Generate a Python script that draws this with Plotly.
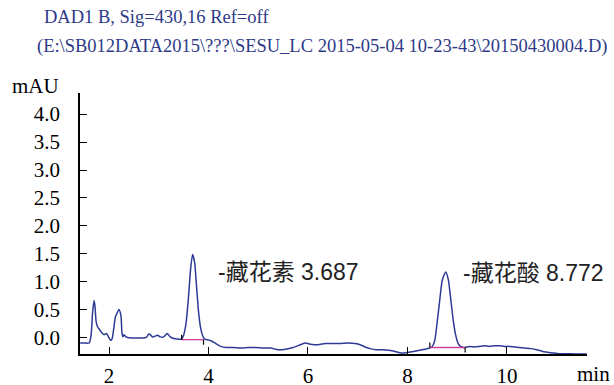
import plotly.graph_objects as go

# Chromatogram points (time in min, signal in mAU)
time_min = [1.42, 1.50, 1.60, 1.64, 1.67, 1.70, 1.72, 1.74, 1.77, 1.80, 1.85, 1.90, 1.95, 1.99, 2.03, 2.06,
            2.10, 2.13, 2.16, 2.20, 2.24, 2.26, 2.28, 2.30, 2.33, 2.37, 2.45, 2.55, 2.65, 2.75, 2.80, 2.83,
            2.87, 2.92, 2.98, 3.03, 3.10, 3.17, 3.23, 3.30, 3.38, 3.46, 3.50, 3.55, 3.60, 3.64, 3.68, 3.72,
            3.76, 3.80, 3.84, 3.88, 3.92, 3.97, 4.05, 4.15, 4.25, 4.35, 4.50, 4.65, 4.80, 4.95, 5.10, 5.25,
            5.40, 5.55, 5.70, 5.85, 5.95, 6.05, 6.20, 6.35, 6.50, 6.65, 6.80, 6.95, 7.05, 7.15, 7.25, 7.38,
            7.50, 7.62, 7.75, 7.87, 8.00, 8.12, 8.25, 8.35, 8.45, 8.50, 8.55, 8.60, 8.65, 8.70, 8.77, 8.82,
            8.87, 8.92, 8.97, 9.02, 9.07, 9.12, 9.16, 9.25, 9.35, 9.45, 9.55, 9.65, 9.75, 9.85, 9.95, 10.05,
            10.15, 10.25, 10.35, 10.48, 10.60, 10.72, 10.85, 10.95, 11.05, 11.20, 11.35, 11.50, 11.60]
signal_mau = [-0.09, -0.09, -0.09, 0.05, 0.45, 0.67, 0.55, 0.30, 0.20, 0.16, 0.10, 0.06, 0.08, 0.02, -0.04, -0.02,
              0.20, 0.38, 0.44, 0.51, 0.40, 0.10, 0.02, 0.06, 0.03, 0.01, 0.00, 0.00, 0.00, 0.01, 0.07, 0.06,
              0.02, 0.03, 0.05, 0.02, 0.02, 0.08, 0.02, -0.01, -0.02, -0.02, 0.05, 0.27, 0.75, 1.22, 1.49, 1.36,
              0.92, 0.47, 0.19, 0.05, -0.02, -0.03, -0.05, -0.10, -0.15, -0.17, -0.17, -0.18, -0.17, -0.17, -0.18, -0.18,
              -0.21, -0.20, -0.17, -0.12, -0.09, -0.11, -0.12, -0.10, -0.10, -0.10, -0.09, -0.10, -0.12, -0.16, -0.19, -0.21,
              -0.21, -0.22, -0.24, -0.27, -0.26, -0.24, -0.22, -0.20, -0.18, -0.15, -0.04, 0.30, 0.68, 1.03, 1.18, 1.05,
              0.70, 0.32, 0.05, -0.10, -0.15, -0.17, -0.17, -0.15, -0.16, -0.15, -0.14, -0.15, -0.14, -0.14, -0.15, -0.15,
              -0.16, -0.17, -0.18, -0.19, -0.21, -0.24, -0.26, -0.27, -0.28, -0.28, -0.285, -0.285, -0.285]

# Integration baselines: start, end, start level, end level
int_start = [3.46, 8.45]
int_end = [3.90, 9.16]
int_y0 = [-0.03, -0.17]
int_y1 = [-0.03, -0.17]

peak_labels = ["-藏花素 3.687", "-藏花酸 8.772"]
label_x = [4.15, 9.08]
label_y = [1.18, 1.16]

x_ticks = [2, 4, 6, 8, 10]
y_ticks = [0.0, 0.5, 1.0, 1.5, 2.0, 2.5, 3.0, 3.5, 4.0]
y_tick_text = ["0.0", "0.5", "1.0", "1.5", "2.0", "2.5", "3.0", "3.5", "4.0"]

line_color = "#2e3b96"
title_color = "#2e3a87"
serif = "Liberation Serif"

fig = go.Figure()
fig.add_trace(go.Scatter(x=time_min, y=signal_mau, mode="lines",
                         line=dict(color=line_color, width=1.5, shape="spline", smoothing=0.6),
                         hoverinfo="skip", showlegend=False))

for s, e, y0, y1 in zip(int_start, int_end, int_y0, int_y1):
    fig.add_trace(go.Scatter(x=[s, e], y=[y0, y1], mode="lines",
                             line=dict(color="#d0409a", width=1.3), showlegend=False, hoverinfo="skip"))
    fig.add_shape(type="line", x0=s, x1=s, y0=y0, y1=y0 + 0.09, line=dict(color="black", width=1.2))
    fig.add_shape(type="line", x0=e, x1=e, y0=y1, y1=y1 - 0.09, line=dict(color="black", width=1.2))

for t, xx, yy in zip(peak_labels, label_x, label_y):
    fig.add_annotation(x=xx, y=yy, text=t, showarrow=False, xanchor="left", yanchor="middle",
                       font=dict(family="Liberation Sans, Noto Sans CJK SC", size=23, color="#222222"))

fig.add_annotation(xref="paper", yref="paper", x=-0.038, y=1.025, text="mAU", showarrow=False,
                   xanchor="right", yanchor="middle",
                   font=dict(family=serif, size=21, color="black"))
fig.add_annotation(xref="paper", yref="paper", x=0.976, y=-0.077, text="min", showarrow=False,
                   xanchor="left", yanchor="middle",
                   font=dict(family=serif, size=21, color="black"))

fig.add_annotation(xref="paper", yref="paper", x=-0.075, y=1.29, text="DAD1 B, Sig=430,16 Ref=off",
                   showarrow=False, xanchor="left", yanchor="middle",
                   font=dict(family=serif, size=18.5, color=title_color))
fig.add_annotation(xref="paper", yref="paper", x=-0.089, y=1.18,
                   text="(E:\\SB012DATA2015\\???\\SESU_LC 2015-05-04 10-23-43\\20150430004.D)",
                   showarrow=False, xanchor="left", yanchor="middle",
                   font=dict(family=serif, size=18.5, color=title_color))

fig.update_layout(
    width=614, height=385,
    margin=dict(l=80, r=27, t=93, b=31, autoexpand=False),
    paper_bgcolor="white", plot_bgcolor="white",
    showlegend=False,
)
fig.update_xaxes(range=[1.417, 11.61], tickvals=x_ticks, ticks="inside", ticklen=7, tickwidth=1,
                 tickcolor="black", showline=True, linecolor="black", linewidth=1.5, showgrid=False,
                 zeroline=False, ticklabelstandoff=2, automargin=False,
                 tickfont=dict(family=serif, size=21, color="black"))
fig.update_yaxes(range=[-0.286, 4.375], tickvals=y_ticks, ticktext=y_tick_text, ticks="inside", ticklen=7,
                 tickwidth=1, tickcolor="black", showline=True, linecolor="black", linewidth=1.5,
                 showgrid=False, zeroline=False, ticklabelstandoff=14, automargin=False,
                 tickfont=dict(family=serif, size=21, color="black"))

fig.write_html("out.html", config={"displayModeBar": False},
               post_script="document.body.style.margin='0';document.body.style.overflow='hidden';")
